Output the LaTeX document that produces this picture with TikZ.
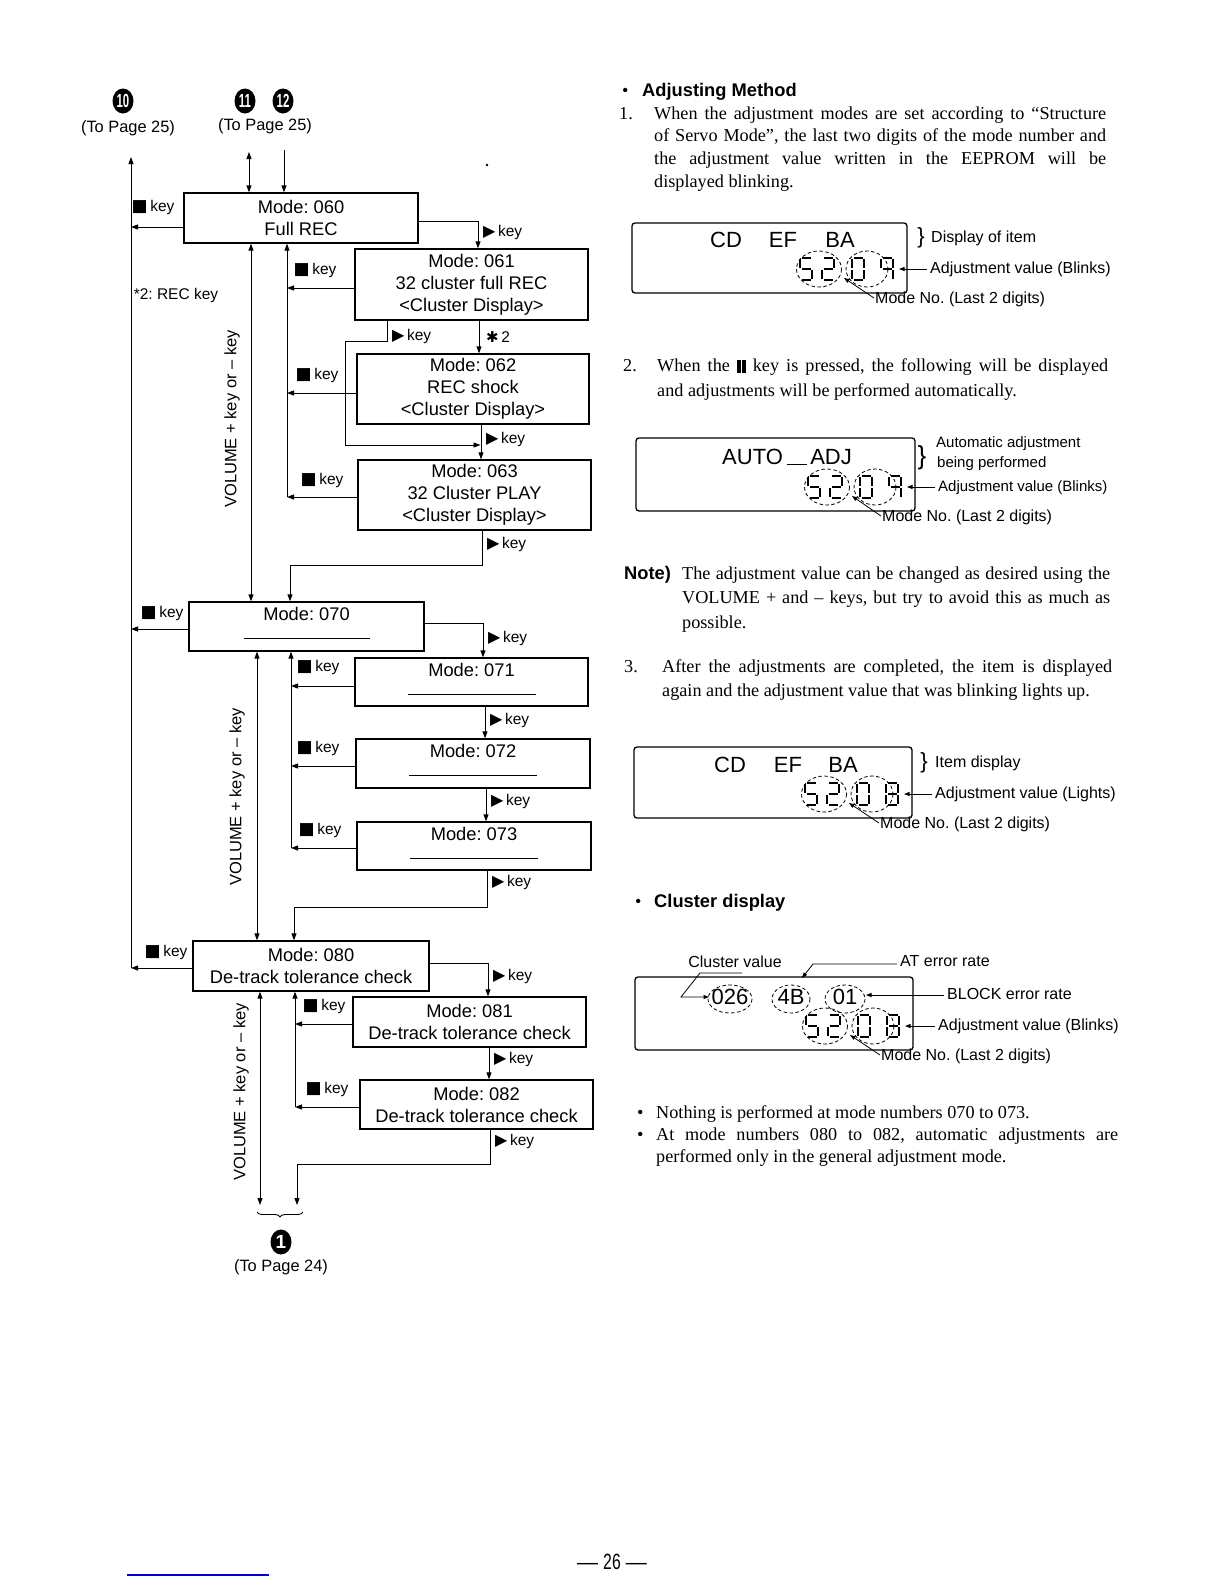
\documentclass[tikz,border=0pt]{standalone}
\usepackage{fontspec}
\usepackage{graphicx}
\setmainfont{Liberation Serif}
\setsansfont{Liberation Sans}
\newfontfamily\symfont{DejaVu Sans}
\usetikzlibrary{arrows.meta,shapes.geometric,decorations.pathreplacing}
\frenchspacing

\newcommand\sdA{\draw[seg] (-4.5,-11)--(4.5,-11);}
\newcommand\sdB{\draw[seg] (6,-10)--(6,-1.3);}
\newcommand\sdC{\draw[seg] (6,1.3)--(6,10);}
\newcommand\sdD{\draw[seg] (-4.5,11)--(4.5,11);}
\newcommand\sdE{\draw[seg] (-6,1.3)--(-6,10);}
\newcommand\sdF{\draw[seg] (-6,-10)--(-6,-1.3);}
\newcommand\sdG{\draw[seg] (-4.5,0)--(4.5,0);}
\newcommand\segdigit[3]{\begin{scope}[shift={(#1,#2)}]\foreach \s in {#3}{\csname sd\s\endcsname}\end{scope}}
\newcommand\stopkey{{\symfont\fontsize{17}{17}\selectfont ■}\,key}
\newcommand\playkey{{\symfont\fontsize{16}{16}\selectfont ▶}\,key}
\newcommand\pausebars{\rule[-1pt]{3.5pt}{13pt}\hspace{1.2pt}\rule[-1pt]{4pt}{13pt}}

\tikzset{
  mbox/.style={draw, line width=1.3pt, inner sep=0pt, align=center, font=\sffamily\fontsize{18.3}{22}\selectfont},
  keylab/.style={inner sep=0pt, font=\sffamily\fontsize{15.5}{18}\selectfont, text height=11pt, text depth=3.5pt},
  pagelab/.style={inner sep=0pt, font=\sffamily\fontsize{16.4}{19}\selectfont, text height=12pt, text depth=3.5pt},
  vollab/.style={inner sep=0pt, font=\sffamily\fontsize{16.5}{19}\selectfont, rotate=90},
  blob/.style={ellipse, fill=black, text=white, inner sep=0pt, minimum width=21pt, minimum height=25pt, font=\sffamily\bfseries\fontsize{19}{19}\selectfont},
  conn/.style={line width=0.9pt},
  arr/.style={conn, -{Triangle[length=7pt,width=5pt]}},
  darr/.style={conn, {Triangle[length=7pt,width=5pt]}-{Triangle[length=7pt,width=5pt]}},
  body/.style={anchor=west, inner sep=0pt, font=\rmfamily\fontsize{18.2}{22}\selectfont, text height=13pt, text depth=4pt},
  head/.style={anchor=west, inner sep=0pt, font=\sffamily\bfseries\fontsize{18.3}{22}\selectfont, text height=13pt, text depth=4pt},
  lcd/.style={draw, line width=1.3pt, rounded corners=3pt, inner sep=0pt},
  lcdtxt/.style={inner sep=0pt, font=\sffamily\fontsize{22}{22}\selectfont, text height=15.8pt, text depth=0pt},
  lcdlab/.style={anchor=west, inner sep=0pt, font=\sffamily\fontsize{16}{19}\selectfont, text height=12pt, text depth=3.5pt},
  lcdlabs/.style={lcdlab, font=\sffamily\fontsize{15}{18}\selectfont},
  brc/.style={inner sep=0pt, font=\sffamily\fontsize{22}{22}\selectfont},
  seg/.style={line width=2.1pt},
  dell/.style={draw, line width=0.8pt, dash pattern=on 3.5pt off 2.5pt},
  sarr/.style={line width=0.8pt, -{Triangle[length=5.5pt,width=4pt]}},
}

\begin{document}
\begin{tikzpicture}[x=1pt,y=-1pt]
\useasboundingbox[fill=white] (0,0) rectangle (1225,1585);

% ---------------- left flow chart ----------------
\node[blob] (c10) at (123,101) {\scalebox{0.6}[1]{10}};
\node[pagelab] (tp10) at (128,128) {(To Page 25)};
\node[blob] (c11) at (245,101) {\scalebox{0.6}[1]{11}};
\node[blob] (c12) at (283,101) {\scalebox{0.6}[1]{12}};
\node[pagelab] (tp11) at (265,126) {(To Page 25)};
\fill (487,165) circle (1.3);

\node[mbox, minimum width=234pt, minimum height=50pt] (b060) at (301,218) {Mode: 060\\Full REC};
\node[mbox, minimum width=233pt, minimum height=71pt] (b061) at (471.5,284.5) {Mode: 061\\32 cluster full REC\\<Cluster Display>};
\node[mbox, minimum width=232pt, minimum height=70pt] (b062) at (473,389) {Mode: 062\\REC shock\\<Cluster Display>};
\node[mbox, minimum width=233pt, minimum height=70pt] (b063) at (474.5,495) {Mode: 063\\32 Cluster PLAY\\<Cluster Display>};
\node[mbox, minimum width=235pt, minimum height=49pt] (b070) at (306.5,626.5) {Mode: 070\\[-3.6pt]\rule{126pt}{1pt}\rule[-6pt]{0pt}{6pt}};
\node[mbox, minimum width=233pt, minimum height=48pt] (b071) at (471.5,682) {Mode: 071\\[-3.6pt]\rule{128pt}{1pt}\rule[-6pt]{0pt}{6pt}};
\node[mbox, minimum width=234pt, minimum height=49pt] (b072) at (473,763.5) {Mode: 072\\[-3.6pt]\rule{128pt}{1pt}\rule[-6pt]{0pt}{6pt}};
\node[mbox, minimum width=234pt, minimum height=48pt] (b073) at (474,846) {Mode: 073\\[-3.6pt]\rule{128pt}{1pt}\rule[-6pt]{0pt}{6pt}};
\node[mbox, minimum width=236pt, minimum height=50pt] (b080) at (311,966) {Mode: 080\\De-track tolerance check};
\node[mbox, minimum width=233pt, minimum height=50pt] (b081) at (469.5,1022) {Mode: 081\\De-track tolerance check};
\node[mbox, minimum width=233pt, minimum height=49pt] (b082) at (476.5,1104.5) {Mode: 082\\De-track tolerance check};

% left return line
\coordinate (to10) at (131,157);
\coordinate (L060) at (131,227);
\coordinate (L070) at (131,629);
\coordinate (L080) at (131,968);
\draw[arr] (L080) -- (to10);
\draw[arr] (b060.west |- L060) -- (L060);
\draw[arr] (b070.west |- L070) -- (L070);
\draw[arr] (b080.west |- L080) -- (L080);

% top connections
\coordinate (to11) at (249,152);
\coordinate (fr12) at (284,150);
\draw[darr] (to11) -- (to11 |- b060.north);
\draw[arr] (fr12) -- (fr12 |- b060.north);

% group 06x
\coordinate (V1) at (251,400);
\draw[darr] (V1 |- b060.south) -- (V1 |- b070.north);
\coordinate (s061) at (287,288);
\coordinate (s062) at (287,393);
\coordinate (s063) at (287,497);
\draw[arr] (s063) -- (s063 |- b060.south);
\draw[arr] (b061.west |- s061) -- (s061);
\draw[arr] (b062.west |- s062) -- (s062);
\draw[arr] (b063.west |- s063) -- (s063);
\coordinate (r060) at (478,221);
\draw[arr] (b060.east |- r060) -- (r060) -- (r060 |- b061.north);
\coordinate (d061) at (479,330);
\draw[arr] (d061 |- b061.south) -- (d061 |- b062.north);
\coordinate (p1) at (387,341);
\coordinate (p2) at (345,341);
\coordinate (p3) at (345,445);
\coordinate (p4) at (480.5,445);
\draw[arr] (b061.south -| p1) -- (p1) -- (p2) -- (p3) -- (p4);
\coordinate (d062) at (481,440);
\draw[arr] (d062 |- b062.south) -- (d062 |- b063.north);
\coordinate (q1) at (482,565);
\coordinate (q2) at (290,565);
\draw[arr] (b063.south -| q1) -- (q1) -- (q2) -- (q2 |- b070.north);

% group 07x
\coordinate (V2) at (257,800);
\draw[darr] (V2 |- b070.south) -- (V2 |- b080.north);
\coordinate (s071) at (291,686);
\coordinate (s072) at (291,766);
\coordinate (s073) at (291,848);
\draw[arr] (s073) -- (s073 |- b070.south);
\draw[arr] (b071.west |- s071) -- (s071);
\draw[arr] (b072.west |- s072) -- (s072);
\draw[arr] (b073.west |- s073) -- (s073);
\coordinate (r070) at (483,623);
\draw[arr] (b070.east |- r070) -- (r070) -- (r070 |- b071.north);
\coordinate (d071) at (485,720);
\draw[arr] (d071 |- b071.south) -- (d071 |- b072.north);
\coordinate (d072) at (486,800);
\draw[arr] (d072 |- b072.south) -- (d072 |- b073.north);
\coordinate (q3) at (487,907);
\coordinate (q4) at (294,907);
\draw[arr] (b073.south -| q3) -- (q3) -- (q4) -- (q4 |- b080.north);

% group 08x
\coordinate (V3) at (260,1205);
\draw[darr] (V3 |- b080.south) -- (V3);
\coordinate (s081) at (295,1024);
\coordinate (s082) at (295,1107);
\draw[arr] (s082) -- (s082 |- b080.south);
\draw[arr] (b081.west |- s081) -- (s081);
\draw[arr] (b082.west |- s082) -- (s082);
\coordinate (r080) at (488,963);
\draw[arr] (b080.east |- r080) -- (r080) -- (r080 |- b081.north);
\coordinate (d081) at (489,1060);
\draw[arr] (d081 |- b081.south) -- (d081 |- b082.north);
\coordinate (q5) at (490,1164);
\coordinate (q6) at (297,1164);
\coordinate (q7) at (297,1205);
\draw[arr] (b082.south -| q5) -- (q5) -- (q6) -- (q7);

\draw[conn, decorate, decoration={brace, amplitude=5pt, mirror}] (257,1212) -- (303,1212);
\node[blob] (c1) at (281,1242) {1};
\node[pagelab] (tp24) at (281,1267) {(To Page 24)};

% key labels
\node[keylab] (k060) at (153,208) {\stopkey};
\node[keylab] (k061) at (315,271) {\stopkey};
\node[keylab] (k062) at (317,376) {\stopkey};
\node[keylab] (k063) at (322,481) {\stopkey};
\node[keylab] (k070) at (162,614) {\stopkey};
\node[keylab] (k071) at (318,668) {\stopkey};
\node[keylab] (k072) at (318,749) {\stopkey};
\node[keylab] (k073) at (320,831) {\stopkey};
\node[keylab] (k080) at (166,953) {\stopkey};
\node[keylab] (k081) at (324,1007) {\stopkey};
\node[keylab] (k082) at (327,1090) {\stopkey};

\node[keylab, anchor=west] (pk060) at (483,233) {\playkey};
\node[keylab, anchor=west] (pkloop) at (392,337) {\playkey};
\node[keylab, anchor=west] (star2) at (486,339) {{\symfont\fontsize{15}{15}\selectfont ✱}\,2};
\node[keylab, anchor=west] (pk062) at (486,440) {\playkey};
\node[keylab, anchor=west] (pk063) at (487,545) {\playkey};
\node[keylab, anchor=west] (pk070) at (488,639) {\playkey};
\node[keylab, anchor=west] (pk071) at (490,721) {\playkey};
\node[keylab, anchor=west] (pk072) at (491,802) {\playkey};
\node[keylab, anchor=west] (pk073) at (492,883) {\playkey};
\node[keylab, anchor=west] (pk080) at (493,977) {\playkey};
\node[keylab, anchor=west] (pk081) at (494,1060) {\playkey};
\node[keylab, anchor=west] (pk082) at (495,1142) {\playkey};

\node[keylab] (rec2) at (176,296) {*2: REC key};
\node[vollab] (vol1) at (232,419) {VOLUME + key or – key};
\node[vollab] (vol2) at (237,797) {VOLUME + key or – key};
\node[vollab] (vol3) at (241,1092) {VOLUME + key or – key};

% ---------------- right column ----------------
\node[body] (bul1) at (622,92) {•};
\node[head] (hAdj) at (642,92) {Adjusting Method};
\node[body] (n1) at (619,115) {1.};
\node[body] (t1a) at (654,115) {\makebox[452pt][s]{When the adjustment modes are set according to “Structure}};
\node[body] (t1b) at (654,137) {\makebox[452pt][s]{of Servo Mode”, the last two digits of the mode number and}};
\node[body] (t1c) at (654,160) {\makebox[452pt][s]{the adjustment value written in the EEPROM will be}};
\node[body] (t1d) at (654,183) {displayed blinking.};

% LCD 1
\node[lcd, minimum width=275pt, minimum height=70pt] (lcd1) at (769.5,258) {};
\node[lcdtxt] (l1cd) at (726,240) {CD};
\node[lcdtxt] (l1ef) at (783,240) {EF};
\node[lcdtxt] (l1ba) at (840,240) {BA};
\segdigit{806}{269}{A,F,G,C,D}
\segdigit{828}{269}{A,B,G,E,D}
\segdigit{858}{269}{A,B,C,D,E,F}
\segdigit{887}{269}{A,B,C,F,G}
\draw[dell] (819,269) ellipse [x radius=22.5, y radius=18];
\draw[dell] (867,269) ellipse [x radius=21, y radius=18];
\node[brc] (br1) at (921,238) {\}};
\node[lcdlab] (l1item) at (931,238) {Display of item};
\node[lcdlab] (l1adj) at (930,269) {Adjustment value (Blinks)};
\node[lcdlab] (l1mode) at (875,299) {Mode No. (Last 2 digits)};
\draw[sarr] (l1adj.west) ++(-3,0) -- (899,269);
\draw[sarr] (l1mode.west) ++(-1,-1) -- (844,278);

\node[body] (n2) at (623,367) {2.};
\node[body] (t2a) at (657,367) {\makebox[451pt][s]{When the \pausebars\ key is pressed, the following will be displayed}};
\node[body] (t2b) at (657,392) {and adjustments will be performed automatically.};

% LCD 2
\node[lcd, minimum width=279pt, minimum height=73pt] (lcd2) at (775.5,474.5) {};
\node[lcdtxt] (l2auto) at (787,457) {AUTO\,\rule{20pt}{1.3pt}\,ADJ};
\segdigit{814}{487}{A,F,G,C,D}
\segdigit{836}{487}{A,B,G,E,D}
\segdigit{866}{487}{A,B,C,D,E,F}
\segdigit{895}{487}{A,B,C,F,G}
\draw[dell] (827,487) ellipse [x radius=22.5, y radius=18];
\draw[dell] (875,487) ellipse [x radius=21, y radius=18];
\node[brc, font=\sffamily\fontsize{26}{26}\selectfont] (br2) at (922,458) {\}};
\node[lcdlabs] (l2a) at (936,443) {Automatic adjustment};
\node[lcdlabs] (l2b) at (937,463) {being performed};
\node[lcdlabs] (l2adj) at (938,487) {Adjustment value (Blinks)};
\node[lcdlab] (l2mode) at (882,517) {Mode No. (Last 2 digits)};
\draw[sarr] (l2adj.west) ++(-3,0) -- (907,487);
\draw[sarr] (l2mode.west) ++(-1,-1) -- (852,496);

\node[head] (note) at (624,575) {Note)};
\node[body] (nt1) at (682,575) {\makebox[428pt][s]{The adjustment value can be changed as desired using the}};
\node[body] (nt2) at (682,599) {\makebox[428pt][s]{VOLUME + and – keys, but try to avoid this as much as}};
\node[body] (nt3) at (682,624) {possible.};

\node[body] (n3) at (624,668) {3.};
\node[body] (t3a) at (662,668) {\makebox[450pt][s]{After the adjustments are completed, the item is displayed}};
\node[body] (t3b) at (662,692) {again and the adjustment value that was blinking lights up.};

% LCD 3
\node[lcd, minimum width=278pt, minimum height=71pt] (lcd3) at (773,782.5) {};
\node[lcdtxt] (l3cd) at (730,765) {CD};
\node[lcdtxt] (l3ef) at (788,765) {EF};
\node[lcdtxt] (l3ba) at (843,765) {BA};
\segdigit{811}{794}{A,F,G,C,D}
\segdigit{833}{794}{A,B,G,E,D}
\segdigit{863}{794}{A,B,C,D,E,F}
\segdigit{892}{794}{A,B,C,D,E,F,G}
\draw[dell] (824,794) ellipse [x radius=22.5, y radius=18];
\draw[dell] (872,794) ellipse [x radius=21, y radius=18];
\node[brc] (br3) at (924,763) {\}};
\node[lcdlab] (l3item) at (935,763) {Item display};
\node[lcdlab] (l3adj) at (935,794) {Adjustment value (Lights)};
\node[lcdlab] (l3mode) at (880,824) {Mode No. (Last 2 digits)};
\draw[sarr] (l3adj.west) ++(-3,0) -- (904,794);
\draw[sarr] (l3mode.west) ++(-1,-1) -- (849,803);

\node[body] (bul2) at (635,903) {•};
\node[head] (hClu) at (654,903) {Cluster display};

% LCD 4
\node[lcd, minimum width=278pt, minimum height=73pt] (lcd4) at (774,1013.5) {};
\node[lcdtxt] (l4a) at (730,997) {026};
\node[lcdtxt] (l4b) at (791,997) {4B};
\node[lcdtxt] (l4c) at (845,997) {01};
\draw[dell] (730,999) ellipse [x radius=22, y radius=14];
\draw[dell] (791,999) ellipse [x radius=19, y radius=14];
\draw[dell] (845,999) ellipse [x radius=20, y radius=14];
\segdigit{812}{1026}{A,F,G,C,D}
\segdigit{834}{1026}{A,B,G,E,D}
\segdigit{864}{1026}{A,B,C,D,E,F}
\segdigit{893}{1026}{A,B,C,D,E,F,G}
\draw[dell] (825,1026) ellipse [x radius=22.5, y radius=18];
\draw[dell] (873,1026) ellipse [x radius=21, y radius=18];
\node[lcdlab, anchor=center] (l4cv) at (735,963) {Cluster value};
\node[lcdlab] (l4at) at (900,962) {AT error rate};
\node[lcdlab] (l4blk) at (947,995) {BLOCK error rate};
\node[lcdlab] (l4adj) at (938,1026) {Adjustment value (Blinks)};
\node[lcdlab] (l4mode) at (881,1056) {Mode No. (Last 2 digits)};
\coordinate (cvA) at (742,973);
\coordinate (cvB) at (700,973);
\coordinate (cvC) at (681,997);
\coordinate (cvD) at (709,997);
\draw[sarr] (cvA) -- (cvB) -- (cvC) -- (cvD);
\coordinate (atA) at (813,964);
\draw[sarr] (l4at.west) ++(-3,2) -- (atA) -- (802,978);
\draw[sarr] (l4blk.west) ++(-3,0) -- (866,995);
\draw[sarr] (l4adj.west) ++(-3,0) -- (905,1026);
\draw[sarr] (l4mode.west) ++(-1,-1) -- (850,1035);

\node[body] (bul3) at (637,1114) {•};
\node[body] (bt1) at (656,1114) {Nothing is performed at mode numbers 070 to 073.};
\node[body] (bul4) at (637,1136) {•};
\node[body] (bt2) at (656,1136) {\makebox[462pt][s]{At mode numbers 080 to 082, automatic adjustments are}};
\node[body] (bt3) at (656,1158) {performed only in the general adjustment mode.};

% page footer
\node[inner sep=0pt, font=\sffamily\fontsize{21}{21}\selectfont] (pnum) at (612,1562) {—\hspace{5pt}\scalebox{0.75}[1.05]{26}\hspace{5pt}—};
\draw[line width=1.2pt, blue!85!black] (127,1575) -- (269,1575);
\end{tikzpicture}
\end{document}
